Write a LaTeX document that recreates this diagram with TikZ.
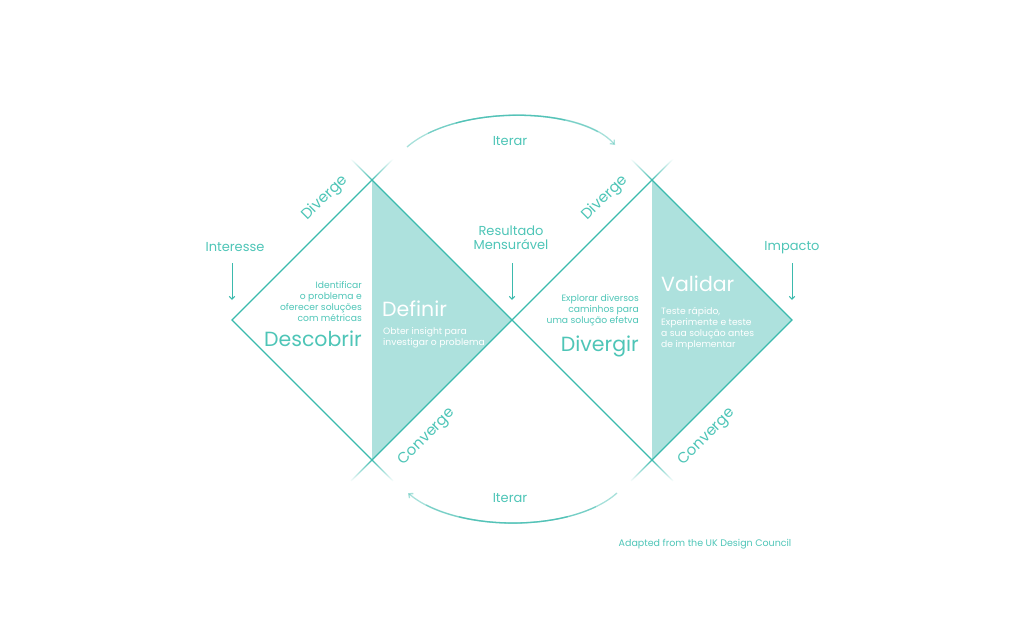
\documentclass[tikz,border=0pt]{standalone}
\usepackage{fontspec}
\setmainfont{Poppins}
\usetikzlibrary{arrows.meta,fadings}
\definecolor{tline}{HTML}{3BBAAD}
\definecolor{tfill}{HTML}{ADE1DD}
\definecolor{ttext}{HTML}{4EC5B7}
\tikzfading[name=fadeup, top color=transparent!100, bottom color=transparent!0]
\tikzfading[name=fadedown, top color=transparent!0, bottom color=transparent!100]
\tikzset{
  edge/.style={draw=tline, line width=1.3pt},
  ext/.style={draw=tline, line width=1.1pt},
  lbl/.style={text=ttext, inner sep=0pt, font=\fontsize{13}{15}\selectfont},
  diag/.style={text=ttext, inner sep=0pt, font=\fontsize{15}{17}\selectfont, rotate=45},
  small/.style={text=ttext, inner sep=0pt, font=\fontsize{9.2}{10.9}\selectfont},
  smallw/.style={text=white, inner sep=0pt, font=\fontsize{9.2}{10.9}\selectfont, align=left},
  title/.style={text=ttext, inner sep=0pt, font=\fontsize{20.5}{24}\selectfont},
  titlew/.style={text=white, inner sep=0pt, font=\fontsize{20.5}{24}\selectfont},
  tip/.style={-{Straight Barb[length=3pt,width=5.5pt]}, draw=tline, line width=1pt},
  arcbase/.style={-{Straight Barb[length=3.5pt,width=6pt]}, draw=tline, line width=1.3pt, draw opacity=0.45},
  arcmid/.style={draw=tline, line width=1.3pt, draw opacity=0.45, dash pattern=on 0pt off 25pt on 175pt off 600pt},
  arccore/.style={draw=tline, line width=1.3pt, draw opacity=0.6, dash pattern=on 0pt off 55pt on 110pt off 600pt}
}
\begin{document}
\begin{tikzpicture}[x=1pt,y=-1pt]
\useasboundingbox (0,0) rectangle (1024,640);
% vertices
\coordinate (L1) at (232,320);
\coordinate (T1) at (372,180);
\coordinate (B1) at (372,460);
\coordinate (M) at (512,320);
\coordinate (T2) at (652,180);
\coordinate (B2) at (652,460);
\coordinate (R2) at (792,320);
% fills
\fill[tfill] (T1) -- (M) -- (B1) -- cycle;
\fill[tfill] (T2) -- (R2) -- (B2) -- cycle;
% outlines
\draw[edge] (L1) -- (T1) -- (M) -- (B1) -- cycle;
\draw[edge] (M) -- (T2) -- (R2) -- (B2) -- cycle;
% fading extensions
\coordinate (T1a) at (351,159); \coordinate (T1b) at (393,159);
\coordinate (B1a) at (351,481); \coordinate (B1b) at (393,481);
\coordinate (T2a) at (631,159); \coordinate (T2b) at (673,159);
\coordinate (B2a) at (631,481); \coordinate (B2b) at (673,481);
\draw[ext, path fading=fadeup] (T1) -- (T1a);
\draw[ext, path fading=fadeup] (T1) -- (T1b);
\draw[ext, path fading=fadedown] (B1) -- (B1a);
\draw[ext, path fading=fadedown] (B1) -- (B1b);
\draw[ext, path fading=fadeup] (T2) -- (T2a);
\draw[ext, path fading=fadeup] (T2) -- (T2b);
\draw[ext, path fading=fadedown] (B2) -- (B2a);
\draw[ext, path fading=fadedown] (B2) -- (B2b);
% iterate arcs
\coordinate (A1s) at (407,147); \coordinate (A1e) at (615,145);
\coordinate (A2s) at (617,493); \coordinate (A2e) at (408,493);
\draw[arcbase] (A1s) .. controls (455,105) and (580,105) .. (A1e);
\draw[arcmid] (A1s) .. controls (455,105) and (580,105) .. (A1e);
\draw[arccore] (A1s) .. controls (455,105) and (580,105) .. (A1e);
\draw[arcbase] (A2s) .. controls (572,533) and (455,533) .. (A2e);
\draw[arcmid] (A2s) .. controls (572,533) and (455,533) .. (A2e);
\draw[arccore] (A2s) .. controls (572,533) and (455,533) .. (A2e);
\node[lbl] (it1) at (510,141) {Iterar};
\node[lbl] (it2) at (510,498) {Iterar};
% top labels and arrows
\node[lbl] (int) at (235,247) {Interesse};
\node[lbl, align=center, font=\fontsize{13}{14}\selectfont] (res) at (511,238) {Resultado\\Mensurável};
\node[lbl] (imp) at (792,248) {Impacto};
\coordinate (a1s) at (232,263); \coordinate (a1e) at (232,300);
\coordinate (a2s) at (512,263); \coordinate (a2e) at (512,300);
\coordinate (a3s) at (792,263); \coordinate (a3e) at (792,300);
\draw[tip] (a1s) -- (a1e);
\draw[tip] (a2s) -- (a2e);
\draw[tip] (a3s) -- (a3e);
% diagonal labels
\node[diag] (dv1) at (325,198) {Diverge};
\node[diag] (dv2) at (605,198) {Diverge};
\node[diag] (cv1) at (427,437) {Converge};
\node[diag] (cv2) at (707,437) {Converge};
% left diamond texts
\node[small, align=right, anchor=east] (idt) at (362,301.5) {Identificar\\o problema e\\oferecer soluções\\com métricas};
\node[title, anchor=base east] (desc) at (362,346.5) {Descobrir};
\node[titlew, anchor=base west] (def) at (382,316.5) {Definir};
\node[smallw, anchor=west] (obt) at (383,337.5) {Obter insight para\\investigar o problema};
% right diamond texts
\node[small, align=right, anchor=east] (exp) at (639,310) {Explorar diversos\\caminhos para\\uma solução efetva};
\node[title, anchor=base east] (divg) at (639,351.5) {Divergir};
\node[titlew, anchor=base west] (val) at (661,291.5) {Validar};
\node[smallw, anchor=west] (tst) at (661,328.5) {Teste rápido,\\Experimente e teste\\a sua solução antes\\de implementar};
% credit
\node[text=ttext, inner sep=0pt, font=\fontsize{9.5}{11}\selectfont] (cred) at (705,544) {Adapted from the UK Design Council};
\end{tikzpicture}
\end{document}
